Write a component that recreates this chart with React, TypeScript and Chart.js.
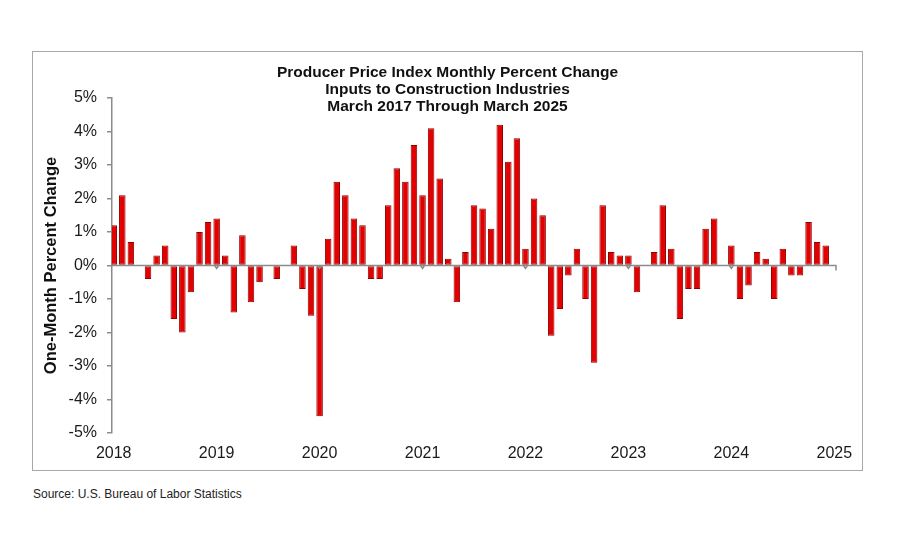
import { useEffect, useRef } from "react";
import { Chart, registerables } from "chart.js";

Chart.register(...registerables);

// Year labels shown along the bottom, one every 12 months
const yearLabels = ["2018", "2019", "2020", "2021", "2022", "2023", "2024", "2025"];

// One-month percent change, in order
const monthlyChange = [
  1.2, 2.1, 0.7, 0.0, -0.4, 0.3, 0.6, -1.6, -2.0, -0.8, 1.0, 1.3,
  1.4, 0.3, -1.4, 0.9, -1.1, -0.5, 0.0, -0.4, 0.0, 0.6, -0.7, -1.5,
  -4.5, 0.8, 2.5, 2.1, 1.4, 1.2, -0.4, -0.4, 1.8, 2.9, 2.5, 3.6,
  2.1, 4.1, 2.6, 0.2, -1.1, 0.4, 1.8, 1.7, 1.1, 4.2, 3.1, 3.8,
  0.5, 2.0, 1.5, -2.1, -1.3, -0.3, 0.5, -1.0, -2.9, 1.8, 0.4, 0.3,
  0.3, -0.8, 0.0, 0.4, 1.8, 0.5, -1.6, -0.7, -0.7, 1.1, 1.4, 0.0,
  0.6, -1.0, -0.6, 0.4, 0.2, -1.0, 0.5, -0.3, -0.3, 1.3, 0.7, 0.6,
];

const titleLines = [
  "Producer Price Index Monthly Percent Change",
  "Inputs to Construction Industries",
  "March 2017 Through March 2025",
];

const yAxisTitle = "One-Month Percent Change";
const sourceNote = "Source: U.S. Bureau of Labor Statistics";

const FONT = '"Liberation Sans", Arial, Helvetica, sans-serif';
const AXIS_GRAY = "#8c8c8c";

// Three-line bold heading centred over the frame
const headingPlugin = {
  id: "stackedHeading",
  afterDraw(chart: any) {
    const { ctx, width } = chart;
    ctx.save();
    ctx.font = `bold 15.5px ${FONT}`;
    ctx.fillStyle = "#111";
    ctx.textAlign = "center";
    ctx.textBaseline = "middle";
    titleLines.forEach((line, k) => ctx.fillText(line, width / 2, 21 + k * 17));
    ctx.restore();
  },
};

// Horizontal zero axis with small downward tick marks at each year
const zeroAxisPlugin = {
  id: "zeroAxis",
  afterDatasetsDraw(chart: any) {
    const { ctx, chartArea, scales } = chart;
    const y0 = scales.y.getPixelForValue(0);
    ctx.save();
    ctx.strokeStyle = AXIS_GRAY;
    ctx.lineWidth = 1.5;
    ctx.beginPath();
    ctx.moveTo(chartArea.left, y0);
    ctx.lineTo(chartArea.right, y0);
    ctx.lineTo(chartArea.right, y0 + 5);
    scales.x.ticks.forEach((t: any) => {
      const x = scales.x.getPixelForValue(t.value);
      if (x > chartArea.left + 2 && x < chartArea.right - 2) {
        ctx.moveTo(x - 2, y0);
        ctx.lineTo(x, y0 + 3);
        ctx.lineTo(x + 2, y0);
      }
    });
    ctx.stroke();
    ctx.restore();
  },
};

export default function App() {
  const canvasRef = useRef<HTMLCanvasElement | null>(null);

  useEffect(() => {
    if (!canvasRef.current) return;
    const chart = new Chart(canvasRef.current, {
      type: "bar",
      data: {
        datasets: [
          {
            data: monthlyChange.map((v, i) => ({ x: i, y: v })),
            backgroundColor: "rgb(226, 0, 0)",
            borderColor: "rgb(140, 0, 0)",
            borderWidth: 1,
            borderSkipped: false,
            barPercentage: 0.76,
            categoryPercentage: 1,
          },
        ],
      },
      options: {
        animation: false,
        responsive: false,
        devicePixelRatio: 1,
        layout: { padding: { top: 46, right: 26, bottom: 0, left: 0 } },
        plugins: {
          legend: { display: false },
          tooltip: { enabled: false },
          title: { display: false },
        },
        scales: {
          x: {
            type: "linear",
            offset: false,
            min: -0.2,
            max: 84.2,
            grid: { display: false, offset: false },
            border: { display: false },
            afterBuildTicks: (scale: any) => {
              scale.ticks = yearLabels.map((_, k) => ({ value: k * 12 }));
            },
            afterFit: (scale: any) => {
              scale.height = 37;
            },
            ticks: {
              autoSkip: false,
              maxRotation: 0,
              padding: 3,
              color: "#1a1a1a",
              font: { family: FONT, size: 16 },
              callback: (value: any) => yearLabels[Math.round(Number(value) / 12)] ?? "",
            },
          },
          y: {
            min: -5,
            max: 5,
            grid: {
              drawOnChartArea: false,
              color: AXIS_GRAY,
              tickColor: AXIS_GRAY,
              tickLength: 5,
              lineWidth: 1.5,
            },
            border: { display: true, color: AXIS_GRAY, width: 1.5 },
            afterFit: (scale: any) => {
              scale.width = 79;
            },
            ticks: {
              stepSize: 1,
              padding: 10,
              color: "#1a1a1a",
              font: { family: FONT, size: 16 },
              callback: (value: any) => `${value}%`,
            },
            title: {
              display: true,
              text: yAxisTitle,
              color: "#111",
              font: { family: FONT, size: 16.5, weight: "bold" },
              padding: { top: 9, bottom: 0 },
            },
          },
        },
      },
      plugins: [zeroAxisPlugin, headingPlugin],
    });
    return () => chart.destroy();
  }, []);

  return (
    <div
      style={{
        position: "absolute",
        left: 0,
        top: 0,
        width: 900,
        height: 550,
        background: "#fff",
        fontFamily: FONT,
      }}
    >
      <div
        style={{
          position: "absolute",
          left: 32,
          top: 51,
          width: 831,
          height: 420,
          boxSizing: "border-box",
          border: "1.5px solid #a8a8a8",
        }}
      />
      <canvas
        ref={canvasRef}
        width={829}
        height={418}
        style={{ position: "absolute", left: 33, top: 52, width: 829, height: 418 }}
      />
      <div
        style={{
          position: "absolute",
          left: 33,
          top: 487,
          fontSize: 12,
          color: "#222",
          whiteSpace: "nowrap",
        }}
      >
        {sourceNote}
      </div>
    </div>
  );
}
